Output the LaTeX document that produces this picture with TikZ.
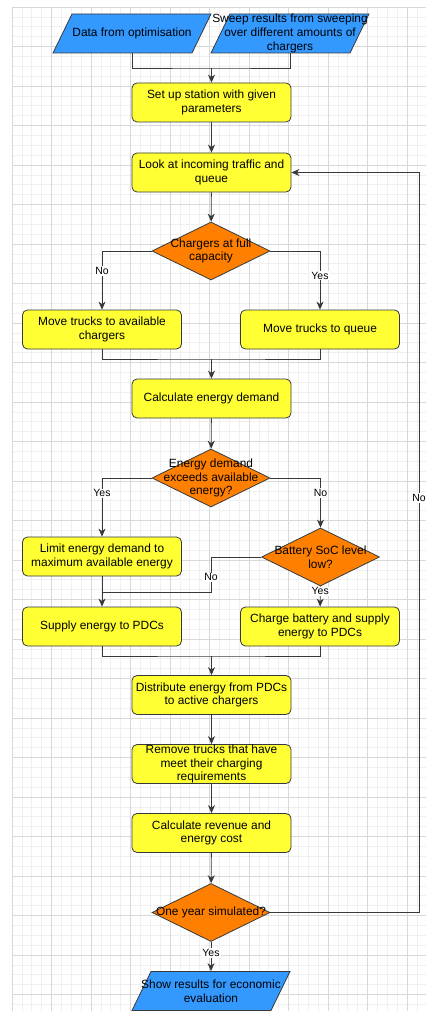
\documentclass[tikz,border=0pt]{standalone}
\usepackage{fontspec}
\setmainfont{Liberation Sans}
\usetikzlibrary{shapes.geometric,arrows.meta}
\definecolor{procfill}{HTML}{FFFF33}
\definecolor{decfill}{HTML}{FF8000}
\definecolor{iofill}{HTML}{3399FF}
\definecolor{edge}{HTML}{36393D}
\definecolor{gridminor}{HTML}{F0F0F0}
\definecolor{gridmajor}{HTML}{D8D8D8}

\begin{document}
\begin{tikzpicture}[x=1pt, y=-1pt,
    font=\fontsize{11.9}{13.8}\selectfont,
    proc/.style={rectangle, rounded corners=5pt, draw=edge, line width=0.8pt, fill=procfill,
      minimum width=159pt, minimum height=39pt, inner sep=0pt, align=center},
    dec/.style={diamond, draw=edge, line width=0.8pt, fill=decfill,
      minimum width=118pt, minimum height=58pt, inner sep=0pt, label={[align=center]center:{#1}}},
    io/.style={trapezium, trapezium left angle=64, trapezium right angle=116, trapezium stretches body=true,
      draw=edge, line width=0.8pt, fill=iofill, minimum width=158pt, minimum height=39pt,
      inner xsep=1pt, inner ysep=12.6pt, label={[align=center]center:{#1}}},
    line/.style={draw=edge, line width=0.8pt},
    arr/.style={line, -{Stealth[length=8pt,width=7pt,inset=2.5pt]}},
    lab/.style={fill=white, inner sep=1pt, font=\fontsize{10.5}{12}\selectfont}]
  \useasboundingbox (0,0) rectangle (426,1011);
  \fill[white] (0,0) rectangle (426,1011);
  \foreach \i in {0,...,41}
    \draw[gridminor, line width=0.7pt] ({12+\i*9.875},7) -- ({12+\i*9.875},1011);
  \foreach \i in {0,...,101}
    \draw[gridminor, line width=0.7pt] (12,{7+\i*9.875}) -- (426,{7+\i*9.875});
  \foreach \i in {0,...,10}
    \draw[gridmajor, line width=0.8pt] ({12+\i*39.5},7) -- ({12+\i*39.5},1011);
  \foreach \i in {0,...,25}
    \draw[gridmajor, line width=0.8pt] (12,{7+\i*39.5}) -- (426,{7+\i*39.5});

  \node[io={Data from optimisation}] (data) at (132,33.5) {\strut};
  \node[io={Sweep results from sweeping\\over different amounts of\\chargers}] (sweep) at (290,33.5) {\strut};
  \node[proc] (setup) at (211.5,102.5) {Set up station with given\\parameters};
  \node[proc] (traffic) at (211.5,172.5) {Look at incoming traffic and\\queue};
  \node[dec={Chargers at full\\capacity}] (full) at (211,251) {};
  \node[proc] (avail) at (102,329.5) {Move trucks to available\\chargers};
  \node[proc] (queue) at (320,329.5) {Move trucks to queue};
  \node[proc] (demand) at (211.5,398.5) {Calculate energy demand};
  \node[dec={Energy demand\\exceeds available\\energy?}] (exceed) at (211,478) {};
  \node[proc] (limit) at (102,556.5) {Limit energy demand to\\maximum available energy};
  \node[dec={Battery SoC level\\low?}] (soc) at (320.5,557) {};
  \node[proc] (supply) at (102,626.5) {Supply energy to PDCs};
  \node[proc] (charge) at (320,626.5) {Charge battery and supply\\energy to PDCs};
  \node[proc] (distrib) at (211.5,695) {Distribute energy from PDCs\\to active chargers};
  \node[proc] (remove) at (211.5,764) {Remove trucks that have\\meet their charging\\requirements};
  \node[proc] (revenue) at (211.5,833) {Calculate revenue and\\energy cost};
  \node[dec={One year simulated?}] (year) at (211,912.5) {};
  \node[io={Show results for economic\\evaluation}] (show) at (211,991) {\strut};

  \coordinate (inmerge) at (211.5,68);
  \coordinate (movemerge) at (211.5,359);
  \coordinate (socbend) at (211,592);
  \coordinate (supplymerge) at (211.5,656);
  \coordinate (loopcorner) at (419,912.5);

  \draw[line] (data.south) |- (inmerge) -| (sweep.south);
  \draw[arr] (inmerge) -- (setup);
  \draw[arr] (setup) -- (traffic);
  \draw[arr] (traffic) -- (full);
  \draw[arr] (full.west) -| node[lab, pos=0.67]{No} (avail.north);
  \draw[arr] (full.east) -| node[lab, pos=0.71]{Yes} (queue.north);
  \draw[line] (avail.south) |- (movemerge) -| (queue.south);
  \draw[arr] (movemerge) -- (demand);
  \draw[arr] (demand) -- (exceed);
  \draw[arr] (exceed.west) -| node[lab, pos=0.63]{Yes} (limit.north);
  \draw[arr] (exceed.east) -| node[lab, pos=0.65]{No} (soc.north);
  \draw[arr] (limit) -- (supply);
  \draw[line] (soc.west) -| node[lab, pos=0.79]{No} (socbend) -- (socbend -| supply.north);
  \draw[arr] (soc) -- node[lab, pos=0.25]{Yes} (charge);
  \draw[line] (supply.south) |- (supplymerge) -| (charge.south);
  \draw[arr] (supplymerge) -- (distrib);
  \draw[arr] (distrib) -- (remove);
  \draw[arr] (remove) -- (revenue);
  \draw[arr] (revenue) -- (year);
  \draw[arr] (year.east) -- (loopcorner) |- node[lab, pos=0.28]{No} (traffic.east);
  \draw[arr] (year) -- node[lab, pos=0.38]{Yes} (show);
\end{tikzpicture}
\end{document}
